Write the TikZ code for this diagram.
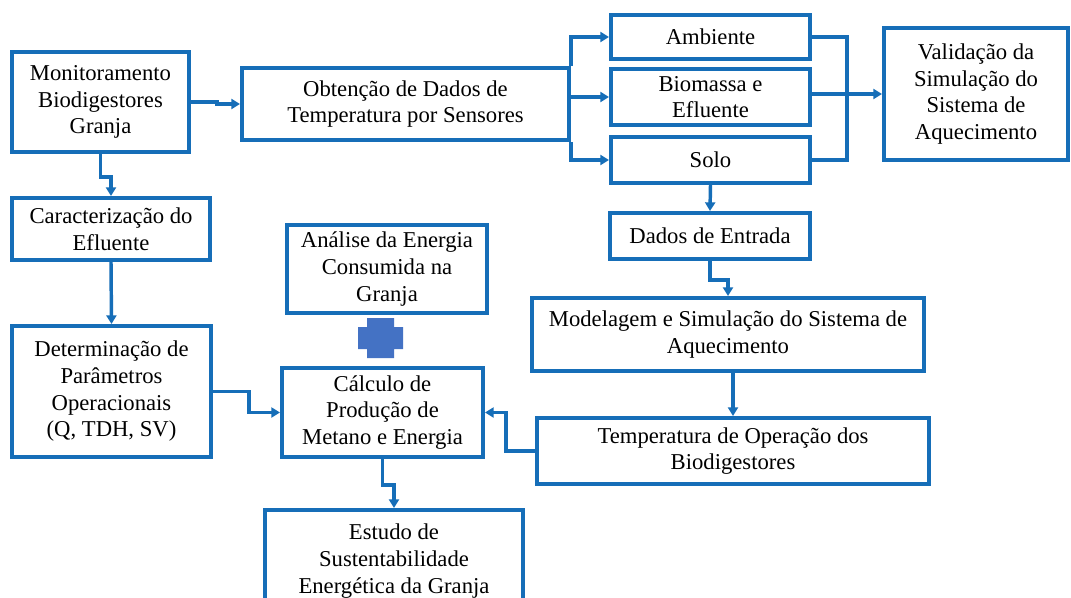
\documentclass[tikz,border=0pt]{standalone}
\usepackage{fontspec}
\setmainfont{Liberation Serif}
\usetikzlibrary{arrows.meta}
\definecolor{lineblue}{RGB}{22,110,184}
\definecolor{plusblue}{RGB}{68,114,196}
\tikzset{
  box/.style={draw=lineblue, line width=3pt, fill=white, inner sep=0pt, align=center,
     font=\fontsize{17pt}{20pt}\selectfont},
  sz/.style 2 args={minimum width=#1*0.75pt, minimum height=#2*0.75pt},
  conn/.style={draw=lineblue, line width=2.6pt},
  arr/.style={conn, -{Triangle[length=6.5pt,width=7.5pt]}},
}
\begin{document}
\begin{tikzpicture}[x=0.75pt,y=-0.75pt]
\useasboundingbox (0,0) rectangle (1071,597);
\clip (0,0) rectangle (1071,597);
\fill[white] (0,0) rectangle (1071,597);

% nodes
\node[box, sz={177}{100}] (mon) at (100.5,102) {Monitoramento\\Biodigestores\\Granja};
\node[box, sz={327}{72}] (obt) at (405.5,104) {Obtenção de Dados de\\Temperatura por Sensores};
\node[box, sz={199}{44}] (amb) at (710.5,37) {Ambiente};
\node[box, sz={199}{56}] (bio) at (710.5,97) {Biomassa e\\Efluente};
\node[box, sz={199}{46}] (solo) at (710.5,160) {Solo};
\node[box, sz={184}{132}] (val) at (976,94) {Validação da\\Simulação do\\Sistema de\\Aquecimento};
\node[box, sz={198}{62}] (car) at (111,229) {Caracterização do\\Efluente};
\node[box, sz={199}{131}] (det) at (111.5,391.5) {Determinação de\\Parâmetros\\Operacionais\\(Q, TDH, SV)};
\node[box, sz={200}{88}] (ana) at (387,269) {Análise da Energia\\Consumida na\\Granja};
\node[box, sz={201}{89}] (calc) at (382.5,412.5) {Cálculo de\\Produção de\\Metano e Energia};
\node[box, sz={258}{102}] (est) at (394,561) {Estudo de\\Sustentabilidade\\Energética da Granja};
\node[box, sz={200}{46}] (dados) at (710,236) {Dados de Entrada};
\node[box, sz={392}{73}] (mod) at (728,334.5) {Modelagem e Simulação do Sistema de\\Aquecimento};
\node[box, sz={392}{66}] (temp) at (733,451) {Temperatura de Operação dos\\Biodigestores};

% plus sign
\fill[plusblue] (367,318) -- (394,318) -- (394,327) -- (403,327) -- (403,349) -- (394,349)
  -- (394,358) -- (367,358) -- (367,349) -- (358,349) -- (358,327) -- (367,327) -- cycle;

% connectors
\draw[arr] (mon.east) -- ++(26,0) |- (obt.west);
\draw[arr] (mon.south) -- ++(0,23) -| (car.north);
\draw[arr] (car.south) -- (det.north);
\draw[arr] (det.east) -- ++(36,0) |- (calc.west);
\draw[arr] (temp.west) -- ++(-29,0) |- (calc.east);
\draw[arr] (calc.south) -- ++(0,26) -| (est.north);

\draw[arr] (obt.north east) |- (amb.west);
\draw[arr] (obt.east |- bio.west) -- (bio.west);
\draw[arr] (obt.south east) |- (solo.west);

\coordinate (jt) at (847,37);
\coordinate (jb) at (847,160);
\draw[conn] (amb.east) -- (jt) -- (jb) -- (solo.east);
\draw[arr] (bio.east |- val.west) -- (val.west);

\draw[arr] (solo.south) -- (dados.north);
\draw[arr] (dados.south) -- ++(0,19) -| (mod.north);
\draw[arr] (mod.south -| temp.north) -- (temp.north);
\end{tikzpicture}
\end{document}
